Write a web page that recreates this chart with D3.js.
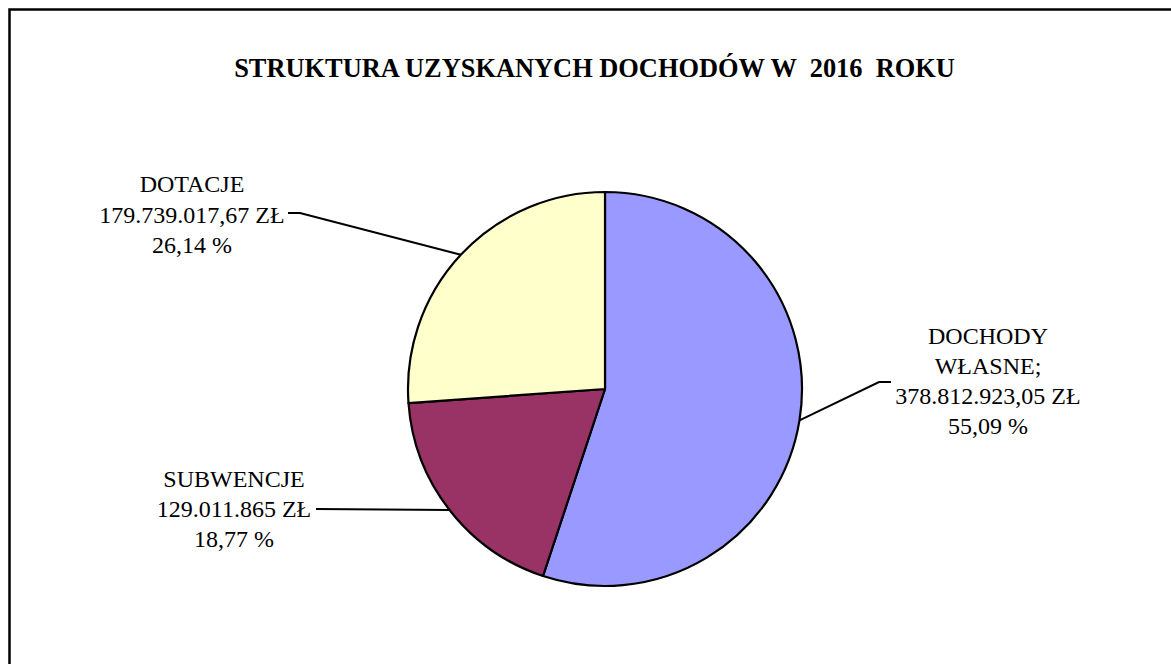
<!DOCTYPE html>
<html>
<head>
<meta charset="utf-8">
<script src="https://cdn.jsdelivr.net/npm/d3@7/dist/d3.min.js"></script>
<style>
  html, body { margin: 0; padding: 0; background: #fff; }
  svg { display: block; }
</style>
</head>
<body>
<svg id="chart" width="1171" height="664"></svg>
<script>
const title = "STRUKTURA UZYSKANYCH DOCHODÓW W  2016  ROKU";
const categories = ["DOCHODY WŁASNE;", "SUBWENCJE", "DOTACJE"];
const labelNameLines = [["DOCHODY", "WŁASNE;"], ["SUBWENCJE"], ["DOTACJE"]];
const values = [378812923.05, 129011865, 179739017.67];
const amountLabels = ["378.812.923,05 ZŁ", "129.011.865 ZŁ", "179.739.017,67 ZŁ"];
const percentLabels = ["55,09 %", "18,77 %", "26,14 %"];
const colors = ["#9999FF", "#993366", "#FFFFCC"];

const FONT = "'Liberation Serif', 'Times New Roman', Times, serif";
const svg = d3.select("#chart");

// chart area border (extends past right/bottom edges)
svg.append("rect")
  .attr("x", 9.5).attr("y", 9.5)
  .attr("width", 1200).attr("height", 700)
  .attr("fill", "#fff").attr("stroke", "#000").attr("stroke-width", 2.5);

svg.append("text")
  .attr("x", 594.5).attr("y", 77)
  .attr("text-anchor", "middle")
  .attr("font-family", FONT)
  .attr("font-weight", "bold")
  .attr("font-size", "26.4px")
  .attr("fill", "#000")
  .style("white-space", "pre")
  .attr("xml:space", "preserve")
  .text(title);

const cx = 605, cy = 389, r = 197;
const data = categories.map((c, i) => ({ name: c, value: values[i], i }));
const pie = d3.pie().sort(null).value(d => d.value);
const arcs = pie(data);
const arc = d3.arc().innerRadius(0).outerRadius(r);

const g = svg.append("g").attr("transform", `translate(${cx},${cy})`);
g.selectAll("path.slice").data(arcs).enter().append("path")
  .attr("class", "slice")
  .attr("d", arc)
  .attr("fill", d => colors[d.data.i])
  .attr("stroke", "#000")
  .attr("stroke-width", 2.2)
  .attr("stroke-linejoin", "round");

// label layout (absolute positions of text blocks and leader elbows)
const labelLayout = [
  { x: 988, y0: 344, lh: 30, elbow: [879, 382], end: [891, 382] },
  { x: 234, y0: 487, lh: 30, elbow: [316, 509], end: [316, 509] },
  { x: 192, y0: 192, lh: 30.5, elbow: [300, 213], end: [288, 213] }
];

arcs.forEach((a, k) => {
  const L = labelLayout[k];
  const mid = (a.startAngle + a.endAngle) / 2;
  const px = cx + r * Math.sin(mid), py = cy - r * Math.cos(mid);
  const pts = [[px, py], L.elbow, L.end];
  svg.append("path")
    .attr("d", d3.line()(pts))
    .attr("fill", "none")
    .attr("stroke", "#000")
    .attr("stroke-width", 2);

  const lines = labelNameLines[k].concat([amountLabels[k], percentLabels[k]]);
  const t = svg.append("text")
    .attr("text-anchor", "middle")
    .attr("font-family", FONT)
    .attr("fill", "#000")
    .attr("font-size", "24px");
  lines.forEach((s, j) => {
    t.append("tspan").attr("x", L.x).attr("y", L.y0 + j * L.lh).text(s);
  });
});
</script>
</body>
</html>
